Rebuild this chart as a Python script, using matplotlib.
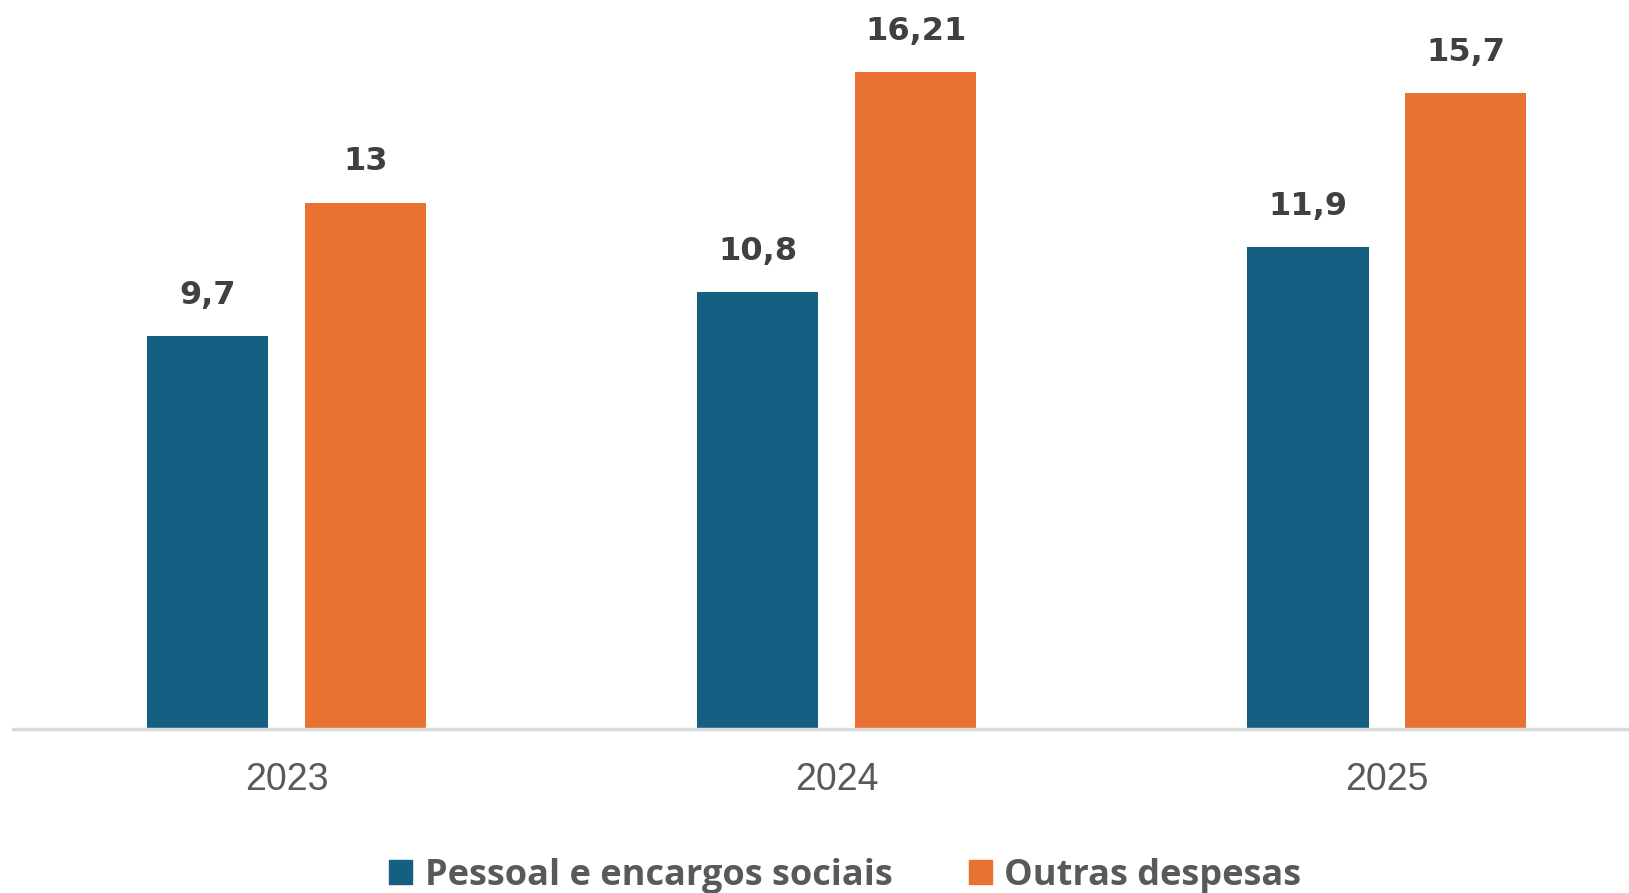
import numpy as np
import matplotlib.pyplot as plt
from matplotlib.patches import Patch

# dados
anos = ['2023', '2024', '2025']
pessoal = [9.7, 10.8, 11.9]
outras = [13, 16.21, 15.7]
rotulos_pessoal = ['9,7', '10,8', '11,9']
rotulos_outras = ['13', '16,21', '15,7']
series = ['Pessoal e encargos sociais', 'Outras despesas']

cor_azul = '#156082'
cor_laranja = '#E97132'

fig = plt.figure(figsize=(16.29, 8.93), dpi=100)
ax = fig.add_axes([13 / 1629, 1 - 729 / 893, 1 - 13 / 1629, 729 / 893])

x = np.arange(len(anos))
w = 0.22
off = 0.1436

ax.bar(x - off, pessoal, w, color=cor_azul)
ax.bar(x + off, outras, w, color=cor_laranja)

# rótulos de valor
for xi, v, t in zip(x, pessoal, rotulos_pessoal):
    ax.annotate(t, (xi - off, v), xytext=(0, 32), textcoords='offset pixels',
                ha='center', va='baseline', fontsize=23, fontweight='bold',
                color='#404040', family='DejaVu Sans')
for xi, v, t in zip(x, outras, rotulos_outras):
    ax.annotate(t, (xi + off, v), xytext=(0, 32), textcoords='offset pixels',
                ha='center', va='baseline', fontsize=23, fontweight='bold',
                color='#404040', family='DejaVu Sans')

ax.set_xlim(-0.498, 2.44)
ax.set_ylim(0, 18.0)
ax.set_xticks(x)
ax.set_xticklabels(anos, fontsize=27, color='#595959', family='Liberation Sans')
ax.tick_params(axis='x', length=0, pad=24)
ax.set_yticks([])
for s in ['top', 'right', 'left']:
    ax.spines[s].set_visible(False)
ax.spines['bottom'].set_color('#D9D9D9')
ax.spines['bottom'].set_linewidth(2.5)

handles = [Patch(color=cor_azul), Patch(color=cor_laranja)]
fig.legend(handles, series, loc='center', bbox_to_anchor=(0.519, 0.019), ncol=2,
           frameon=False, handlelength=0.64, handleheight=0.64, handletextpad=0.35,
           columnspacing=2.1, prop={'family': 'Open Sans', 'weight': 'bold', 'size': 26},
           labelcolor='#595959')

fig.savefig('out.png', dpi=100)
